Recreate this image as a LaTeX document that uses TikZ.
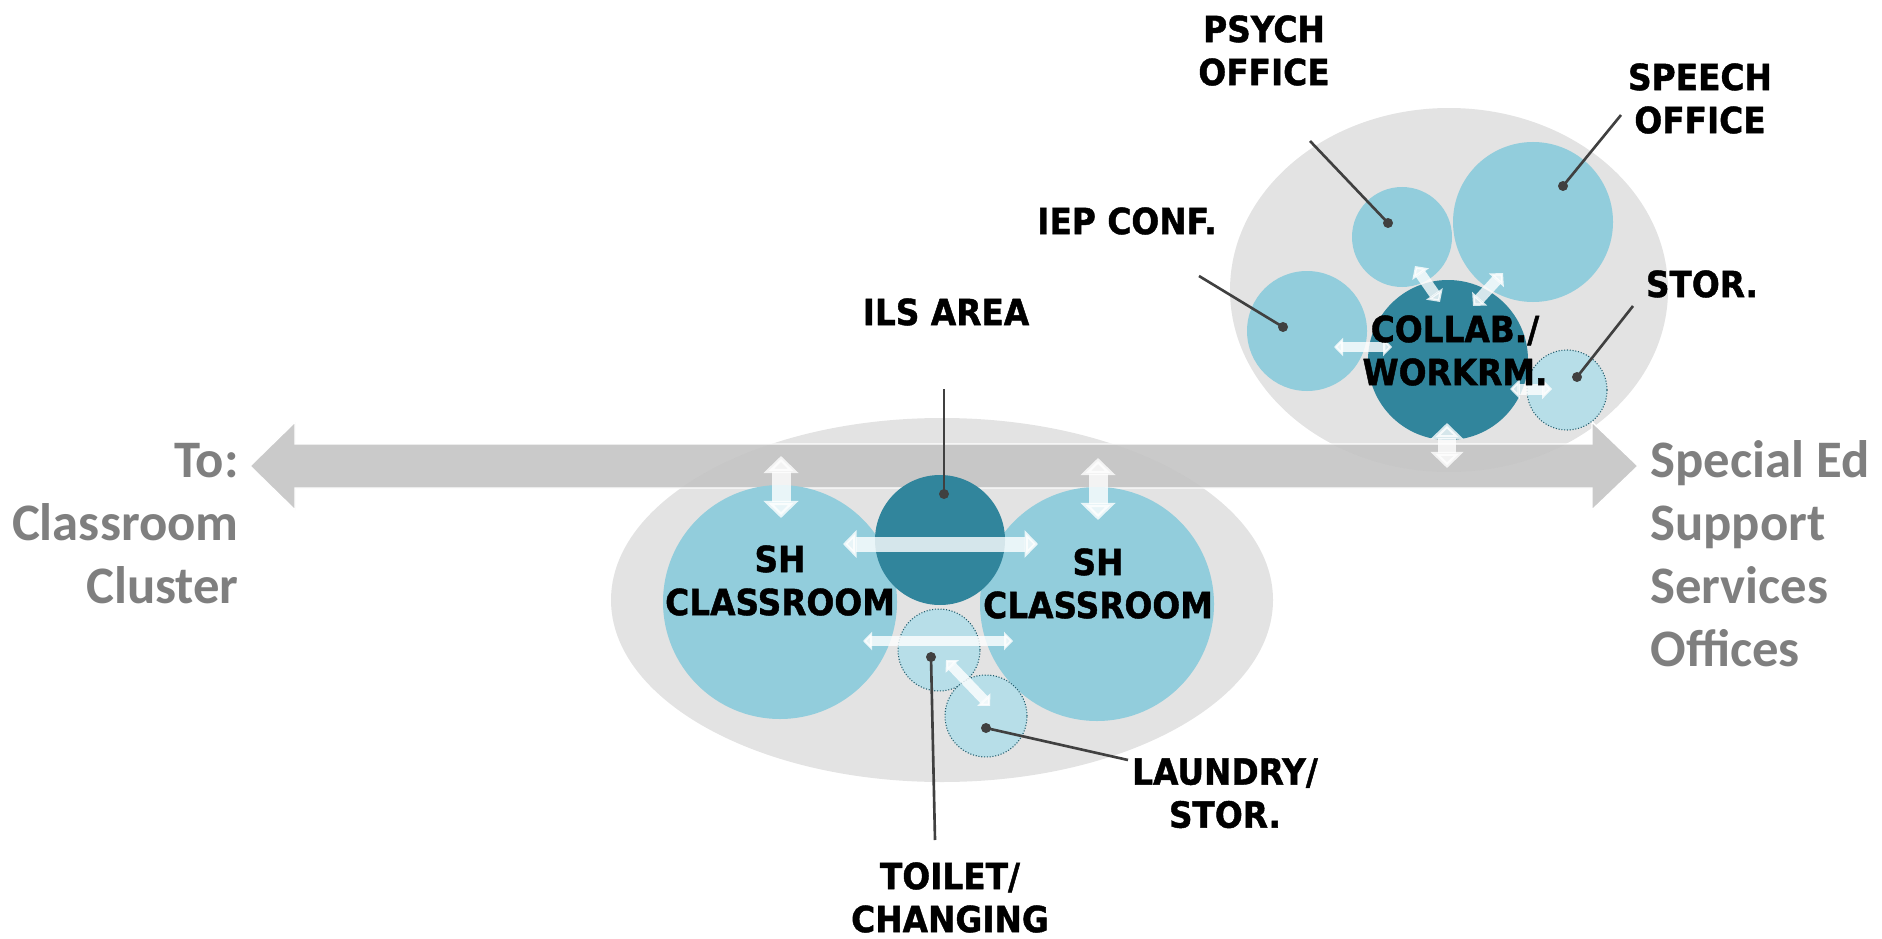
\documentclass[tikz,border=0pt]{standalone}
\usepackage{fontspec}
\usetikzlibrary{arrows.meta}

\newfontfamily\lblfont{DejaVu Sans}[FakeStretch=0.91, BoldFeatures={FakeBold=1.2}]
\newfontfamily\sidefont{Carlito}

\definecolor{roomblue}{HTML}{92CDDC}
\definecolor{roomdark}{HTML}{31859C}
\definecolor{roomlight}{HTML}{B7DEE8}
\definecolor{zonegray}{HTML}{E3E3E3}
\definecolor{bargray}{HTML}{C4C4C4}
\definecolor{leadgray}{HTML}{404040}
\definecolor{sidegray}{HTML}{7F7F7F}

\tikzset{
  room/.style={circle, inner sep=0pt, fill=roomblue, minimum size=2*#1*0.02cm},
  core/.style={room=#1, fill=roomdark},
  minor/.style={room=#1, fill=roomlight, draw=roomdark!70!black, densely dotted, line width=0.6pt},
  flow/.style={white, opacity=.8, line width=#1*0.02cm,
    {Triangle[width=0pt 1.8,length=0pt 0.9]}-{Triangle[width=0pt 1.8,length=0pt 0.9]}},
  leaddot/.style={circle, fill=leadgray, inner sep=0pt, minimum size=0.2cm},
  lead/.style={leadgray, line width=1.5pt},
  lbl/.style={font=\lblfont\bfseries\fontsize{20.5}{24.5}\selectfont, align=center, anchor=north, inner sep=0pt},
  side/.style={font=\sidefont\bfseries\fontsize{30}{35.8}\selectfont, text=sidegray, inner sep=0pt}
}

\begin{document}
\begin{tikzpicture}[x=0.02cm, y=-0.02cm]
  \useasboundingbox (0,0) rectangle (1882,939);

  % Zonas
  \fill[zonegray] (942,600) ellipse [x radius=331, y radius=182];
  \fill[zonegray] (1449,290) ellipse [x radius=219, y radius=182];

  % Pasillo
  \fill[bargray, fill opacity=.9, draw=white, line width=.8pt]
    (250,466) -- (295,422) -- (295,444) -- (1592,444) -- (1592,422) -- (1638,466)
    -- (1592,510) -- (1592,488) -- (295,488) -- (295,510) -- cycle;

  % Salas
  \node[room=117] (shl) at (780,602) {};
  \node[room=117] (shr) at (1097,604) {};
  \node[core=65] (ils) at (940,540) {};
  \node[minor=41] (toilet) at (939,650) {};
  \node[minor=41] (laundry) at (986,716) {};
  \node[room=60] (iep) at (1307,331) {};
  \node[room=50] (psych) at (1402,237) {};
  \node[room=80] (speech) at (1533,222) {};
  \node[core=80] (collab) at (1448,360) {};
  \node[minor=40] (stor) at (1567,390) {};

  % Flechas blancas
  \coordinate (f1a) at (781,456);  \coordinate (f1b) at (781,518);
  \coordinate (f2a) at (1098,458); \coordinate (f2b) at (1098,520);
  \coordinate (f3a) at (843,544);  \coordinate (f3b) at (1038,544);
  \coordinate (f4a) at (863,641);  \coordinate (f4b) at (1013,641);
  \coordinate (f5a) at (946,660);  \coordinate (f5b) at (990,706);
  \coordinate (f6a) at (1415,266); \coordinate (f6b) at (1440,302);
  \coordinate (f7a) at (1503,273); \coordinate (f7b) at (1473,306);
  \coordinate (f8a) at (1334,347); \coordinate (f8b) at (1392,347);
  \coordinate (f9a) at (1510,389); \coordinate (f9b) at (1552,389);
  \coordinate (f10a) at (1447,423); \coordinate (f10b) at (1447,468);
  \draw[flow=19] (f1a) -- (f1b);
  \draw[flow=19] (f2a) -- (f2b);
  \draw[flow=15] (f3a) -- (f3b);
  \draw[flow=10] (f4a) -- (f4b);
  \draw[flow=10] (f5a) -- (f5b);
  \draw[flow=11] (f6a) -- (f6b);
  \draw[flow=11] (f7a) -- (f7b);
  \draw[flow=10] (f8a) -- (f8b);
  \draw[flow=11] (f9a) -- (f9b);
  \draw[flow=18] (f10a) -- (f10b);

  % Puntos y lineas guia
  \node[leaddot] (p-psych) at (1388,223) {};
  \node[leaddot] (p-speech) at (1563,186) {};
  \node[leaddot] (p-iep) at (1283,327) {};
  \node[leaddot] (p-ils) at (944,494) {};
  \node[leaddot] (p-stor) at (1577,377) {};
  \node[leaddot] (p-toilet) at (931,657) {};
  \node[leaddot] (p-laundry) at (986,728) {};
  \coordinate (e-psych) at (1310,141);
  \coordinate (e-speech) at (1621,115);
  \coordinate (e-iep) at (1199,276);
  \coordinate (e-ils) at (944,389);
  \coordinate (e-stor) at (1633,306);
  \coordinate (e-toilet) at (935,840);
  \coordinate (e-laundry) at (1128,760);
  \draw[lead] (p-psych.center) -- (e-psych);
  \draw[lead] (p-speech.center) -- (e-speech);
  \draw[lead] (p-iep.center) -- (e-iep);
  \draw[lead] (p-ils.center) -- (e-ils);
  \draw[lead] (p-stor.center) -- (e-stor);
  \draw[lead] (p-toilet.center) -- (e-toilet);
  \draw[lead] (p-laundry.center) -- (e-laundry);

  % Textos
  \node[lbl] (t-psych) at (1264,15) {PSYCH\\OFFICE};
  \node[lbl] (t-speech) at (1700,63) {SPEECH\\OFFICE};
  \node[lbl] (t-iep) at (1127,207) {IEP CONF.};
  \node[lbl] (t-ils) at (946,298) {ILS AREA};
  \node[lbl] (t-stor) at (1702,270) {STOR.};
  \node[lbl] (t-collab) at (1455,315) {COLLAB./\\WORKRM.};
  \node[lbl] (t-shl) at (780,545) {SH\\CLASSROOM};
  \node[lbl] (t-shr) at (1098,548) {SH\\CLASSROOM};
  \node[lbl] (t-toilet) at (950,862) {TOILET/\\CHANGING};
  \node[lbl] (t-laundry) at (1225,758) {LAUNDRY/\\STOR.};

  \node[side, anchor=north east, align=right] (t-from) at (239,443) {To:\\Classroom\\Cluster};
  \node[side, anchor=north west, align=left] (t-to) at (1650,440) {Special Ed\\Support\\Services\\Offices};
\end{tikzpicture}
\end{document}
